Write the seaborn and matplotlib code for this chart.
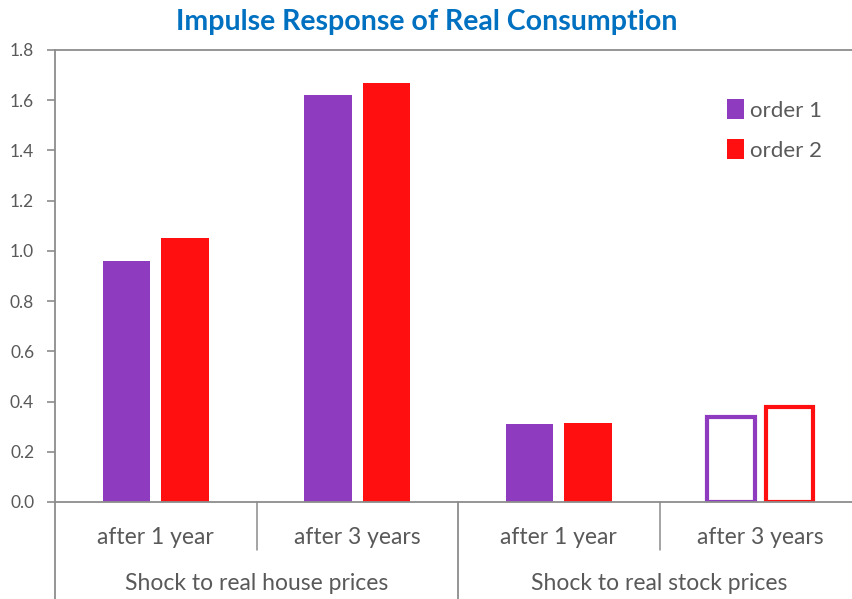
import matplotlib
matplotlib.use("Agg")
import matplotlib.pyplot as plt
import matplotlib.patches as mpatches
import matplotlib.transforms as mtrans
import seaborn as sns
import pandas as pd

# ---- data ----
keys = ["h1", "h3", "s1", "s3"]
horizon_labels = ["after 1 year", "after 3 years", "after 1 year", "after 3 years"]
shock_labels = ["Shock to real house prices", "Shock to real stock prices"]
series_names = ["order 1", "order 2"]
order1 = [0.96, 1.62, 0.31, 0.34]
order2 = [1.05, 1.67, 0.315, 0.38]
hollow = [False, False, False, True]
colors = ["#8E3BBF", "#FF0F0F"]

sns.set_theme(style="white")
plt.rcParams["font.family"] = ["Lato", "DejaVu Sans"]

df = pd.DataFrame({
    "key": keys * 2,
    "value": order1 + order2,
    "series": [series_names[0]] * 4 + [series_names[1]] * 4,
})

fig = plt.figure(figsize=(8.53, 5.99), dpi=100)
W, H = 853, 599
ax = fig.add_axes([55 / W, 1 - 502 / H, (W - 55) / W, (502 - 50) / H])

sns.barplot(data=df, x="key", y="value", hue="series", order=keys,
            hue_order=series_names, palette=colors, width=0.58, gap=0.19,
            linewidth=0, saturation=1, ax=ax, legend=False, errorbar=None)

for cont, col in zip(ax.containers, colors):
    for patch, hol in zip(cont.patches, hollow):
        if hol:
            patch.set_facecolor("white")
            patch.set_edgecolor(col)
            patch.set_linewidth(3)
            patch.set_joinstyle("miter")

gray = "#595959"
axcol = "#8C8C8C"
ax.set_ylim(0, 1.8)
ax.set_yticks([i * 0.2 for i in range(10)])
ax.set_yticklabels([f"{i * 0.2:.1f}" for i in range(10)], fontsize=12.5, color=gray)
ax.set_xlim(-0.5, 3.46)
ax.set_xticks([])
ax.set_xlabel("")
ax.set_ylabel("")
ax.tick_params(axis="y", left=True, length=6, width=1.2, color=axcol, pad=9)
for s in ["left", "bottom", "top"]:
    ax.spines[s].set_color(axcol)
    ax.spines[s].set_linewidth(1.3)
ax.spines["right"].set_visible(False)

# multi-level category axis
trans = mtrans.blended_transform_factory(ax.transData, ax.transAxes)
ax_h_px = 502 - 50
def yfrac(py):
    return (502 - py) / ax_h_px

for i, lab in enumerate(horizon_labels):
    ax.text(i, yfrac(537), lab, transform=trans, ha="center", va="center",
            fontsize=16.5, color=gray)
for g, lab in enumerate(shock_labels):
    ax.text(2 * g + 0.5, yfrac(584), lab, transform=trans, ha="center", va="center",
            fontsize=16.5, color=gray)
for xb in [0.5, 2.5]:
    ax.plot([xb, xb], [0, yfrac(550)], transform=trans, color=axcol, lw=1.1, clip_on=False)
for xb in [-0.5, 1.5]:
    ax.plot([xb, xb], [0, yfrac(600)], transform=trans, color=axcol, lw=1.3, clip_on=False)

# legend
handles = [mpatches.Patch(facecolor=c, edgecolor="none") for c in colors]
ax.legend(handles, series_names, loc="upper left", bbox_to_anchor=(0.817, 0.935),
          frameon=False, handlelength=0.75, handleheight=0.95, handletextpad=0.3,
          labelspacing=0.85, fontsize=16, labelcolor=gray)

fig.text(0.5, 1 - 22 / H, "Impulse Response of Real Consumption", ha="center", va="center",
         fontsize=20.5, fontweight="bold", color="#0070C0")

fig.savefig("out.png", dpi=100)
